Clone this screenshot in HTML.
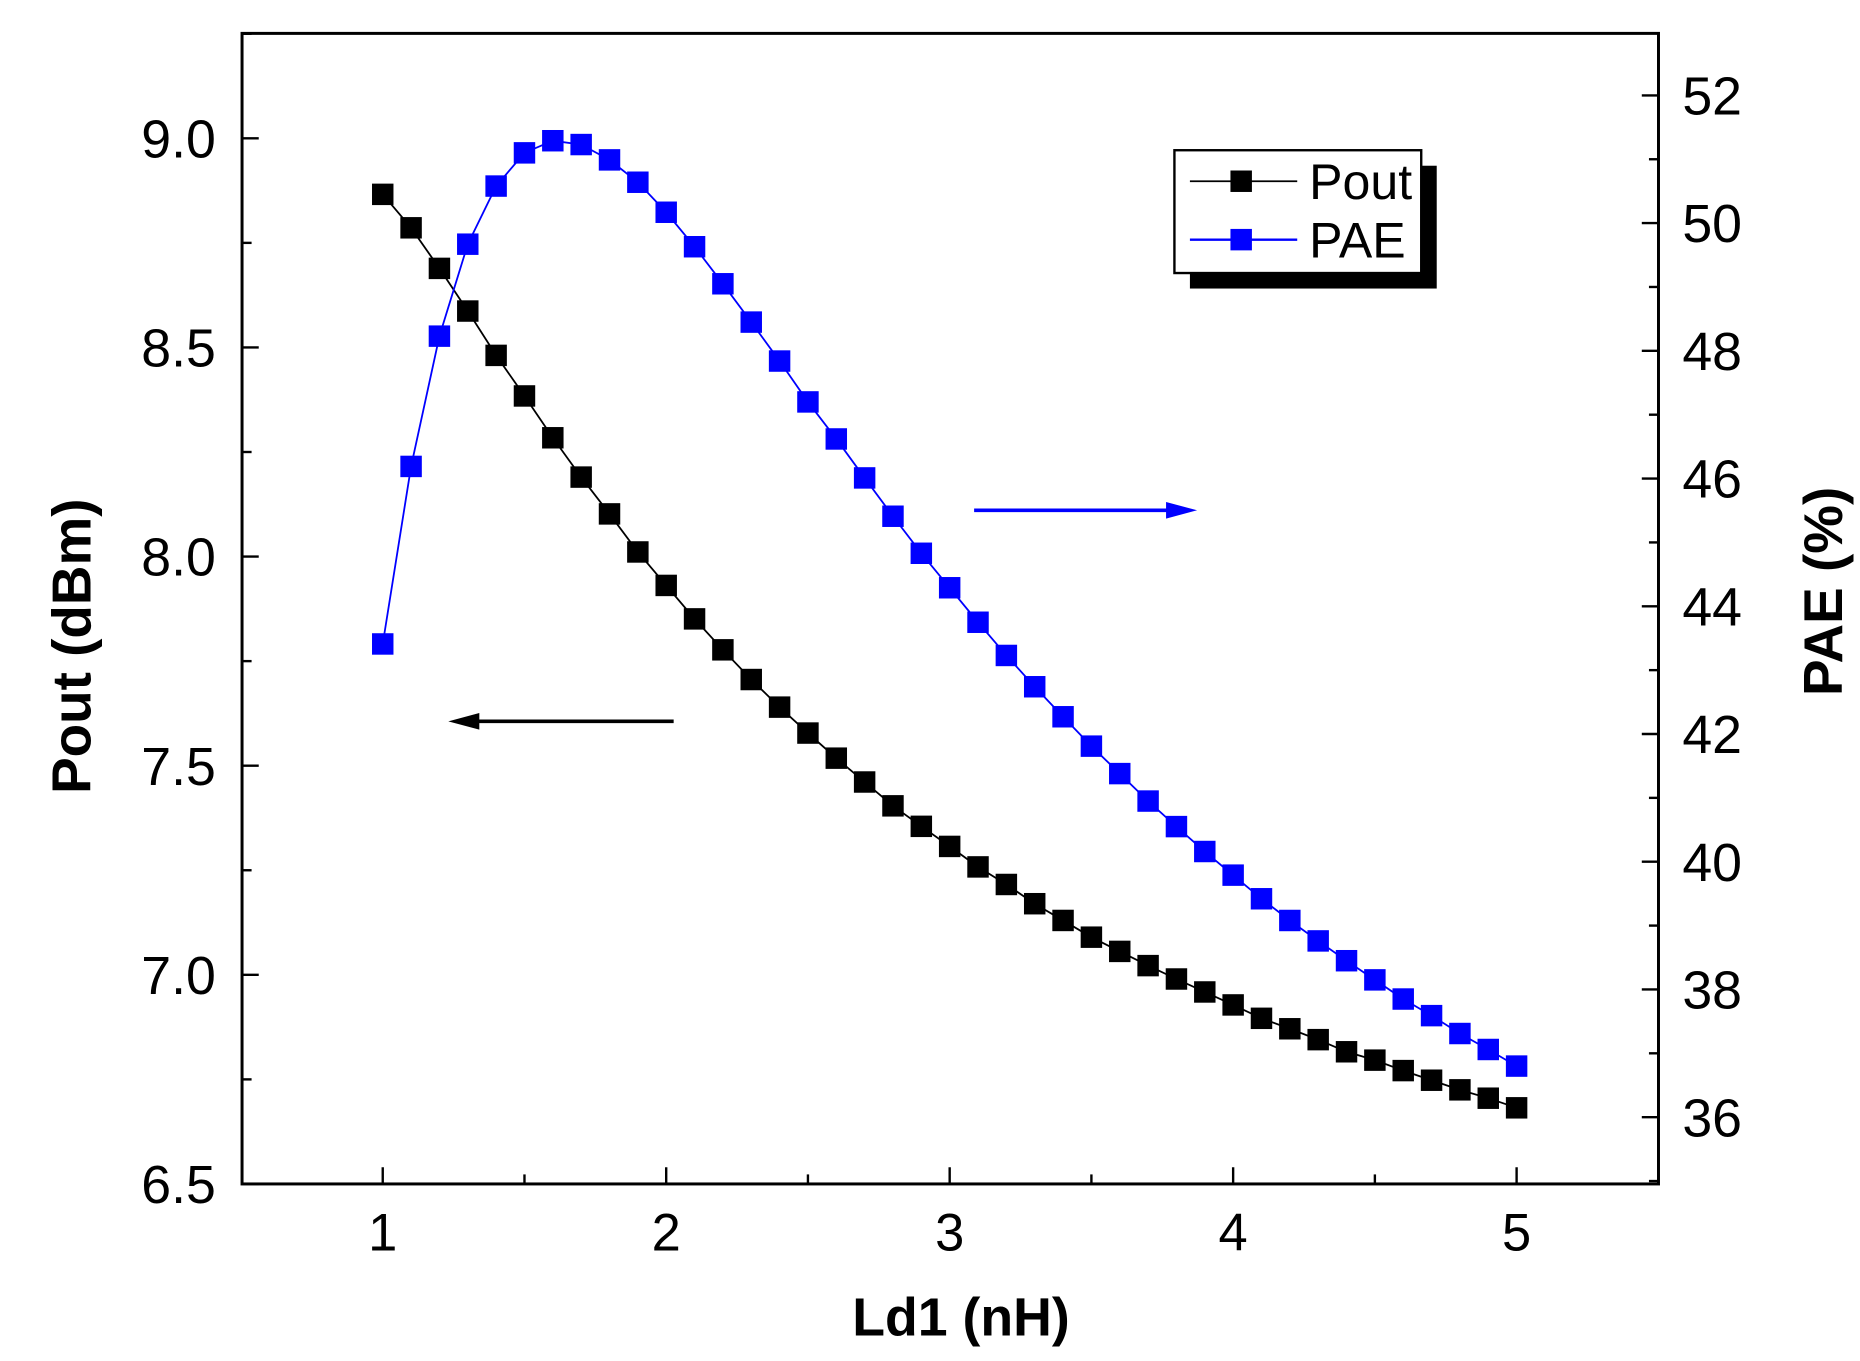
<!DOCTYPE html>
<html><head><meta charset="utf-8"><style>
html,body{margin:0;padding:0;background:#fff;}
svg{display:block;font-family:"Liberation Sans",Arial,sans-serif;}
</style></head><body>
<svg id="chart" width="1860" height="1361" viewBox="0 0 1560 1141.5" xmlns="http://www.w3.org/2000/svg">
<rect width="1560" height="1141.5" fill="#fff"/>
<g id="axes"></g>
<g id="series"></g>
<text x="806" y="1120" font-size="45" font-weight="bold" text-anchor="middle">Ld1 (nH)</text>
<text transform="translate(76,542) rotate(-90)" font-size="46" font-weight="bold" text-anchor="middle">Pout (dBm)</text>
<text transform="translate(1545,496) rotate(-90)" font-size="46" font-weight="bold" text-anchor="middle">PAE (%)</text>
<g>
<line x1="565" y1="605" x2="390" y2="605" stroke="#000" stroke-width="3"/>
<polygon points="376,605 402,598 402,612" fill="#000"/>
</g>
<g>
<line x1="817" y1="428" x2="990" y2="428" stroke="#0000ff" stroke-width="3"/>
<polygon points="1004,428 978,421 978,435" fill="#0000ff"/>
</g>
<g>
<rect x="998" y="139" width="207" height="103" fill="#000"/>
<rect x="985" y="126" width="207" height="103" fill="#fff" stroke="#000" stroke-width="2"/>
<g>
<line x1="998" y1="152" x2="1088" y2="152" stroke="#000" stroke-width="1.5"/>
<rect x="1032" y="143" width="18" height="18" fill="#000"/>
<text x="1098" y="167" font-size="42">Pout</text>
</g>
<g>
<line x1="998" y1="201" x2="1088" y2="201" stroke="#0000ff" stroke-width="2"/>
<rect x="1032" y="192" width="18" height="18" fill="#0000ff"/>
<text x="1098" y="216" font-size="42">PAE</text>
</g>
</g>
</svg>
<script>
const xValues = [1.0,1.1,1.2,1.3,1.4,1.5,1.6,1.7,1.8,1.9,2.0,2.1,2.2,2.3,2.4,2.5,2.6,2.7,2.8,2.9,3.0,3.1,3.2,3.3,3.4,3.5,3.6,3.7,3.8,3.9,4.0,4.1,4.2,4.3,4.4,4.5,4.6,4.7,4.8,4.9,5.0];
const poutValues = [8.866,8.786,8.689,8.587,8.481,8.384,8.284,8.190,8.102,8.011,7.931,7.851,7.777,7.706,7.640,7.578,7.518,7.461,7.404,7.355,7.307,7.258,7.216,7.170,7.130,7.090,7.056,7.022,6.990,6.959,6.928,6.896,6.871,6.845,6.816,6.796,6.771,6.748,6.725,6.705,6.682];
const paeValues = [43.41,46.19,48.23,49.67,50.58,51.10,51.29,51.23,50.99,50.64,50.17,49.63,49.05,48.45,47.84,47.20,46.62,46.01,45.41,44.83,44.29,43.75,43.23,42.74,42.27,41.81,41.38,40.95,40.55,40.16,39.79,39.42,39.08,38.76,38.45,38.15,37.85,37.59,37.31,37.06,36.80];
const xTicks = ["1","2","3","4","5"];
const leftTicks = ["6.5","7.0","7.5","8.0","8.5","9.0"];
const rightTicks = ["36","38","40","42","44","46","48","50","52"];

const NS = "http://www.w3.org/2000/svg";
const L = 203, R = 1391, T = 28, B = 993;
function xs(v){ return 321 + (v - 1) * (1272 - 321) / 4; }
function yl(v){ return 993 - (v - 6.5) * (993 - 116) / 2.5; }
function yr(v){ return 937 - (v - 36) * (937 - 80) / 16; }
function mk(tag, attrs, parent){ const e = document.createElementNS(NS, tag); for (const k in attrs) e.setAttribute(k, attrs[k]); parent.appendChild(e); return e; }

const axes = document.getElementById('axes');
const frame = mk('rect', {x:L, y:T, width:R-L, height:B-T, fill:'none', stroke:'#000', 'stroke-width':2.5}, axes);



for (let i = 0; i < xTicks.length; i++) {
  const v = parseFloat(xTicks[i]);
  const x = xs(v);
  mk('line', {x1:x, y1:B, x2:x, y2:B-14, stroke:'#000', 'stroke-width':2}, axes);
  const t = mk('text', {x:x, y:B+56, 'font-size':44, 'text-anchor':'middle'}, axes);
  t.textContent = xTicks[i];
  
  
  if (i < xTicks.length - 1) { const xm = xs(v + 0.5); mk('line', {x1:xm, y1:B, x2:xm, y2:B-8, stroke:'#000', 'stroke-width':2}, axes); }
}
for (let i = 0; i < leftTicks.length; i++) {
  const v = parseFloat(leftTicks[i]);
  const y = yl(v);
  mk('line', {x1:L, y1:y, x2:L+14, y2:y, stroke:'#000', 'stroke-width':2}, axes);
  const t = mk('text', {x:L-22, y:y+16, 'font-size':45, 'text-anchor':'end'}, axes);
  t.textContent = leftTicks[i];
  
  
  const ym = yl(v + 0.25);
  if (ym > T) mk('line', {x1:L, y1:ym, x2:L+8, y2:ym, stroke:'#000', 'stroke-width':2}, axes);
}
for (let i = 0; i < rightTicks.length; i++) {
  const v = parseFloat(rightTicks[i]);
  const y = yr(v);
  mk('line', {x1:R, y1:y, x2:R-14, y2:y, stroke:'#000', 'stroke-width':2}, axes);
  const t = mk('text', {x:R+20, y:y+16, 'font-size':45}, axes);
  t.textContent = rightTicks[i];
  
  
  for (const m of [-1, 1]) { const ym = yr(v + m); if (ym > T && ym < B && (i === 0 || m === 1)) mk('line', {x1:R, y1:ym, x2:R-8, y2:ym, stroke:'#000', 'stroke-width':2}, axes); }
}

const series = document.getElementById('series');
function drawSeries(vals, yfn, color, name) {
  const g = mk('g', {}, series);
  
  
  const pts = vals.map((v, i) => xs(xValues[i]) + ',' + yfn(v)).join(' ');
  mk('polyline', {points:pts, fill:'none', stroke:color, 'stroke-width':1.5}, g);
  vals.forEach((v, i) => {
    const r = mk('rect', {x:xs(xValues[i]) - 9, y:yfn(v) - 9, width:18, height:18, fill:color}, g);
    
    
  });
}
drawSeries(poutValues, yl, '#000', 'pout-series');
drawSeries(paeValues, yr, '#0000ff', 'pae-series');
</script>
</body></html>
